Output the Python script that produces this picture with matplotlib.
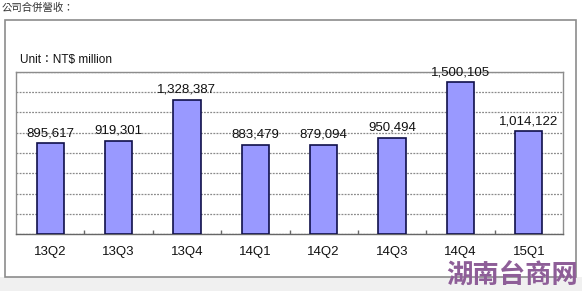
import matplotlib.pyplot as plt
from matplotlib.patches import Rectangle
import numpy as np

# quarterly consolidated revenue
quarters = ['13Q2', '13Q3', '13Q4', '14Q1', '14Q2', '14Q3', '14Q4', '15Q1']
revenue = [895617, 919301, 1328387, 883479, 879094, 950494, 1500105, 1014122]

plt.rcParams['font.family'] = ['Liberation Sans', 'DejaVu Sans']

fig = plt.figure(figsize=(5.82, 2.91), dpi=100)
fig.patch.set_facecolor('white')

# light gray strip at the bottom + outer frame
fig.patches.append(Rectangle((0, 0), 1, 14 / 291, transform=fig.transFigure,
                             facecolor='#f0f0f0', edgecolor='none', zorder=0))
fig.patches.append(Rectangle((5 / 582, 14 / 291), 571 / 582, 257 / 291,
                             transform=fig.transFigure, facecolor='white',
                             edgecolor='#8c8c8c', linewidth=1.2, zorder=1))

ax = fig.add_axes([16 / 582, 1 - 234 / 291, 547 / 582, 162 / 291])
ax.set_zorder(2)
ax.set_facecolor('white')

x = np.arange(len(quarters))
ax.bar(x, revenue, width=0.4, color='#9999ff', edgecolor='#10104a',
       linewidth=1.2, zorder=3)
for xi, v in zip(x, revenue):
    ax.text(xi, v + 40000, f'{v:,}', ha='center', va='bottom',
            fontsize=9.5, color='#111111', zorder=4)

ax.set_xlim(-0.5, len(quarters) - 0.5)
ax.set_ylim(0, 1600000)
ax.set_yticks(np.arange(0, 1600001, 200000))
ax.yaxis.grid(True, color='#8a8a8a', linestyle=(0, (1.5, 1)), linewidth=0.9)
ax.set_axisbelow(True)
ax.tick_params(axis='y', left=False, labelleft=False)

ax.set_xticks(x)
ax.set_xticklabels(quarters, fontsize=9.5, color='#111111')
ax.tick_params(axis='x', length=0, pad=9)
ax.set_xticks(np.arange(0.5, len(quarters) - 0.5, 1), minor=True)
ax.tick_params(axis='x', which='minor', direction='in', length=3,
               color='#666666', width=1)
for s in ax.spines.values():
    s.set_color('#8c8c8c')
    s.set_linewidth(1.0)
ax.spines['bottom'].set_color('#666666')

fig.text(20 / 582, 1 - 60 / 291, 'Unit\uff1aNT$ million', fontsize=8.5,
         va='center', ha='left', color='#111111',
         family=['Liberation Sans', 'Noto Sans CJK TC'], zorder=5)
fig.text(2 / 582, 1 - 8 / 291, '公司合併營收：', fontsize=7.5, va='center',
         ha='left', color='#333333', family=['Noto Sans CJK TC', 'DejaVu Sans'])
fig.text(578 / 582, 1 - 276 / 291, '湖南台商网', fontsize=19, va='center',
         ha='right', color='#8e5e98', fontweight='bold',
         family=['Noto Sans CJK SC', 'DejaVu Sans'], zorder=6)

fig.savefig('out.png', dpi=100)
